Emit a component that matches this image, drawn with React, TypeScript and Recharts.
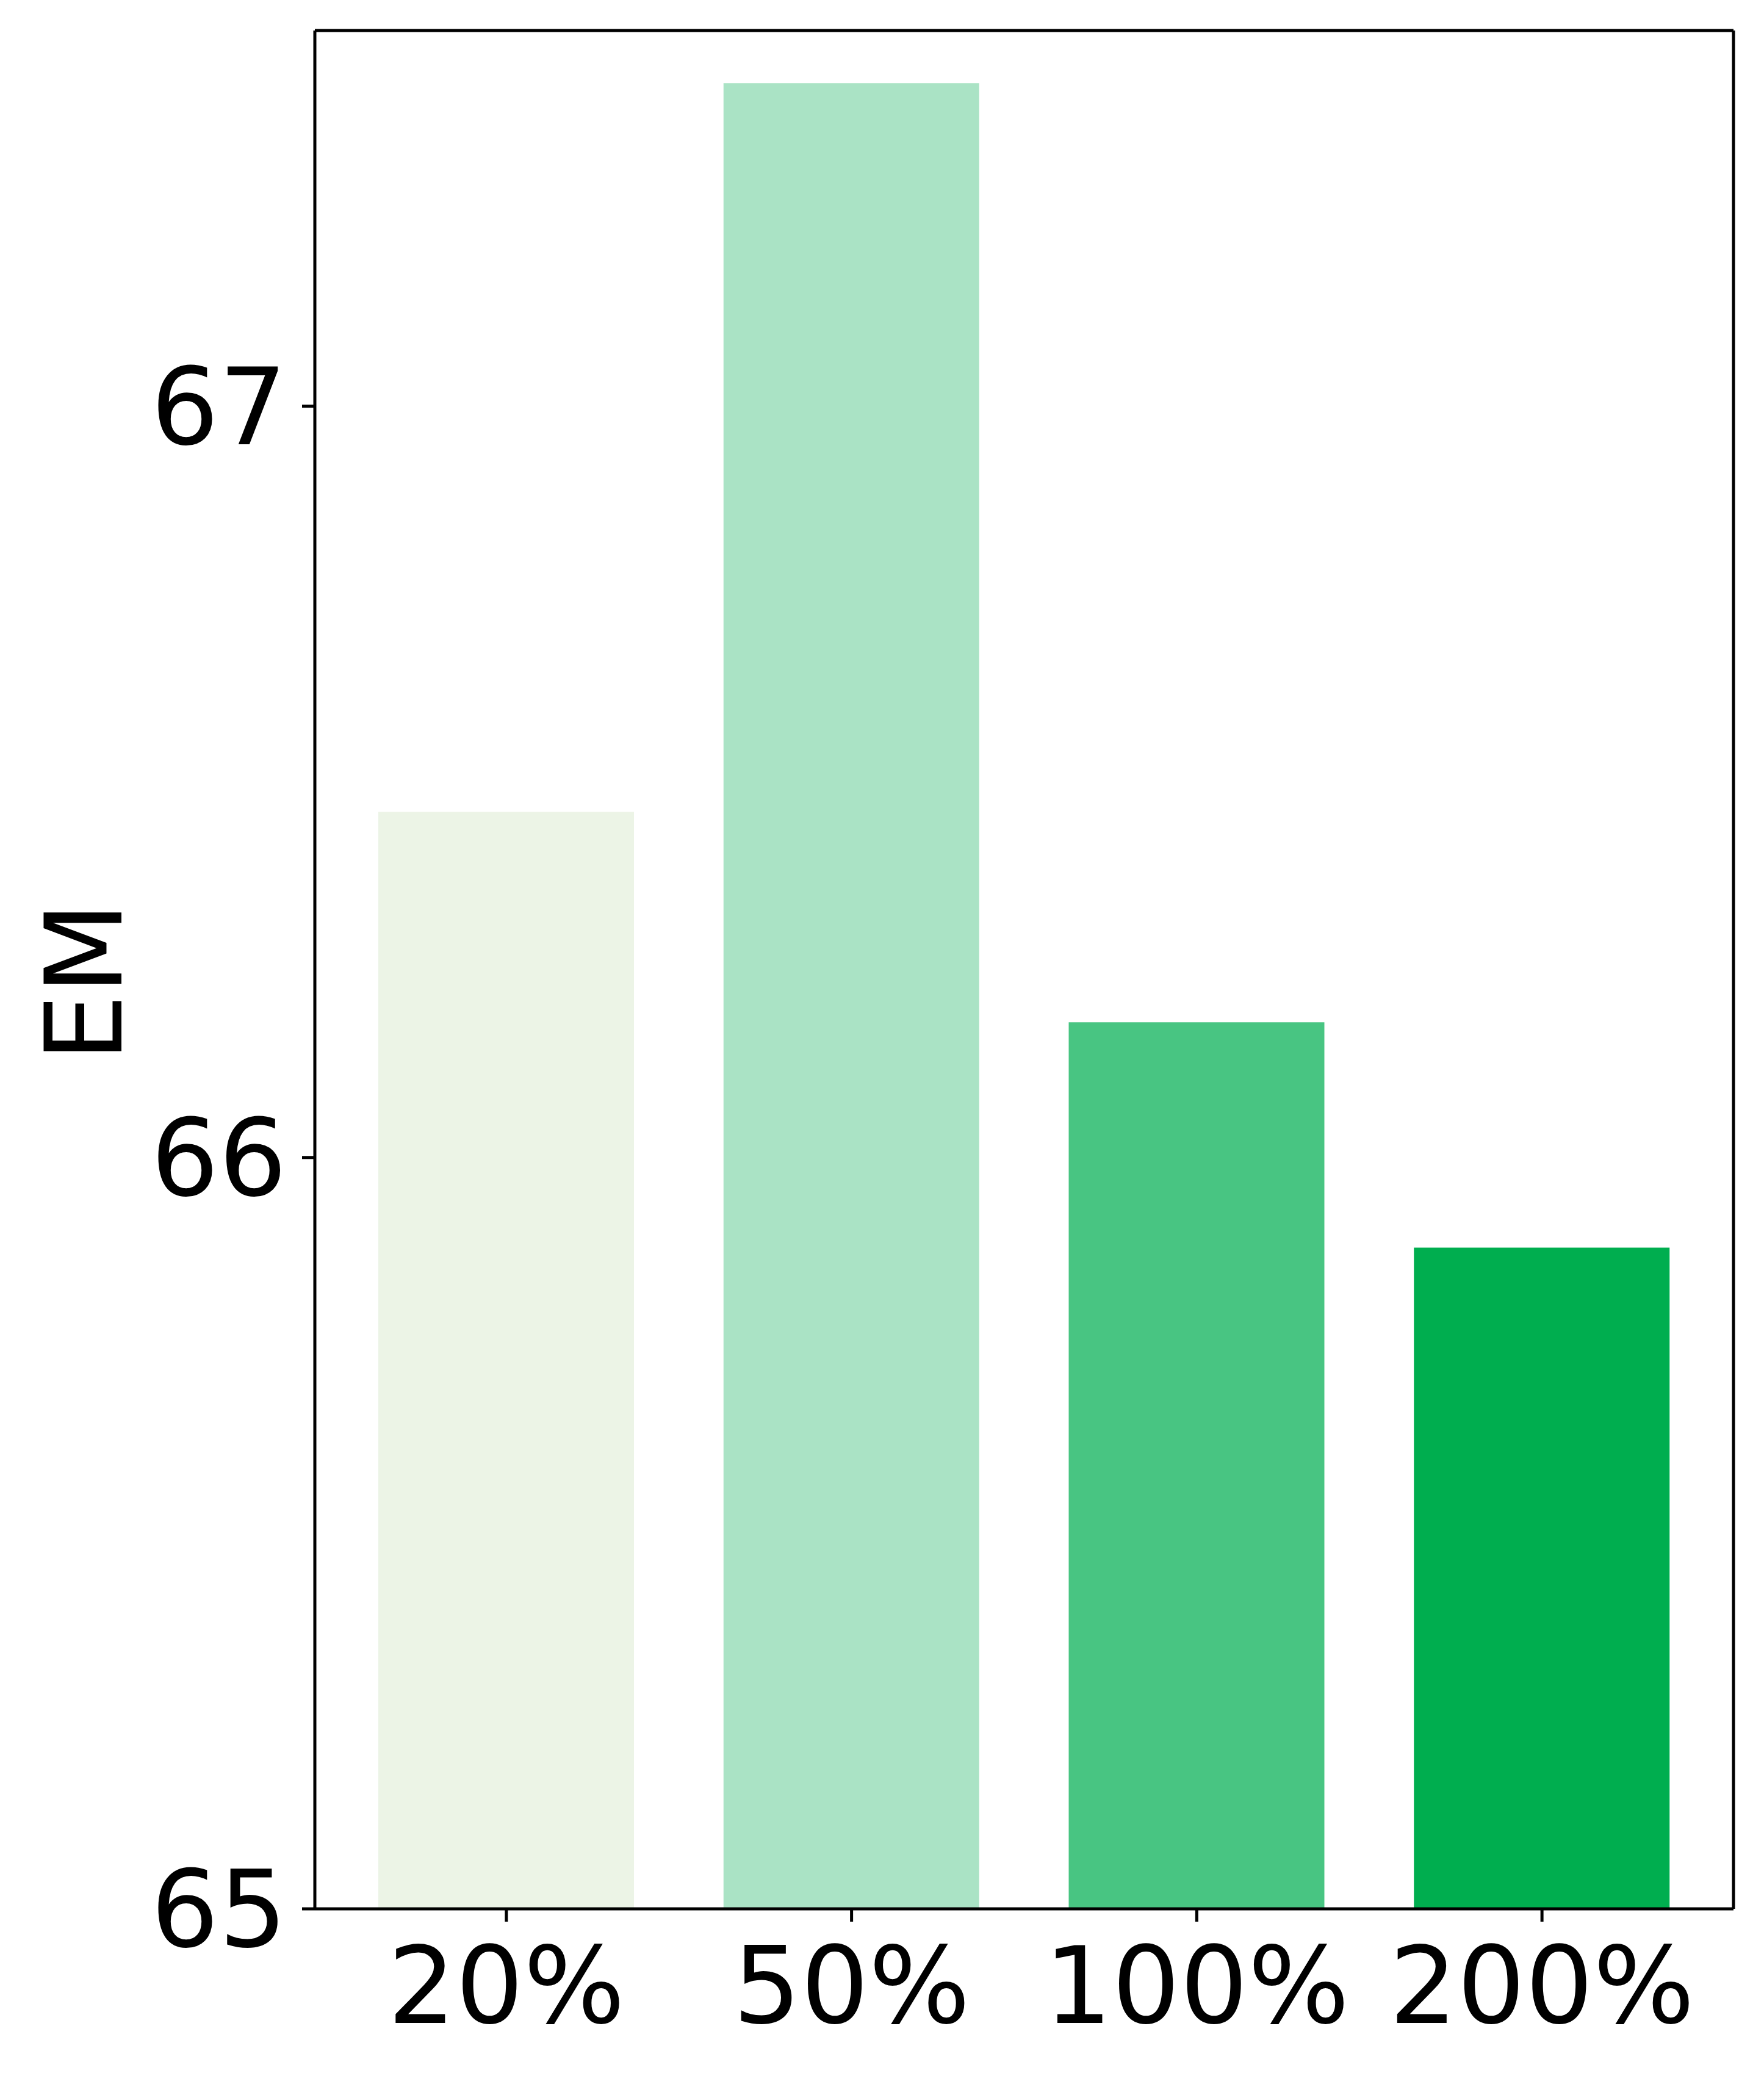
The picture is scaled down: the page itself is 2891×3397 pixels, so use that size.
import React from 'react';
import { BarChart, Bar, XAxis, YAxis, Cell } from 'recharts';

const categories = ['20%', '50%', '100%', '200%'];
const emValues = [66.46, 67.43, 66.18, 65.88];
const barColors = ['#ecf4e6', '#aae3c5', '#48c582', '#00ae4f'];
const yTicks = [65, 66, 67];
const yDomain: [number, number] = [65, 67.5];

const data = categories.map((c, i) => ({ name: c, em: emValues[i] }));

const FONT = 'DejaVu Sans';
const FS = 175;
const LW = 5;

const renderYLabel = (props: any) => {
  const vb = props.viewBox || {};
  const cy = (vb.y ?? 0) + (vb.height ?? 0) / 2 + 20;
  const x = 199;
  return (
    <text
      x={x}
      y={cy}
      transform={`rotate(-90, ${x}, ${cy})`}
      textAnchor="middle"
      fontFamily={FONT}
      fontSize={FS}
      fill="#000"
    >
      EM
    </text>
  );
};

export default function App() {
  return (
    <div style={{ position: 'absolute', left: 0, top: 0, background: '#fff' }}>
      <BarChart
        width={2891}
        height={3397}
        data={data}
        margin={{ top: 49, right: 49, bottom: 0, left: 0 }}
      >
        <XAxis
          dataKey="name"
          height={269}
          padding={{ left: 31, right: 31 }}
          tickSize={21}
          tickMargin={42}
          axisLine={{ stroke: '#000', strokeWidth: LW }}
          tickLine={{ stroke: '#000', strokeWidth: LW }}
          tick={{ fontFamily: FONT, fontSize: FS, fill: '#000' }}
          interval={0}
        />
        <XAxis
          xAxisId="top"
          dataKey="name"
          orientation="top"
          height={1}
          tick={false}
          tickLine={false}
          axisLine={{ stroke: '#000', strokeWidth: LW }}
        />
        <YAxis
          width={516}
          domain={yDomain}
          ticks={yTicks}
          allowDataOverflow
          tickSize={21}
          tickMargin={25}
          axisLine={{ stroke: '#000', strokeWidth: LW }}
          tickLine={{ stroke: '#000', strokeWidth: LW }}
          tick={{ fontFamily: FONT, fontSize: FS, fill: '#000' }}
          label={renderYLabel}
        />
        <YAxis
          yAxisId="right"
          orientation="right"
          width={1}
          domain={yDomain}
          tick={false}
          tickLine={false}
          axisLine={{ stroke: '#000', strokeWidth: LW }}
        />
        <Bar dataKey="em" barSize={419} isAnimationActive={false}>
          {data.map((d, i) => (
            <Cell key={d.name} fill={barColors[i]} />
          ))}
        </Bar>
      </BarChart>
    </div>
  );
}
